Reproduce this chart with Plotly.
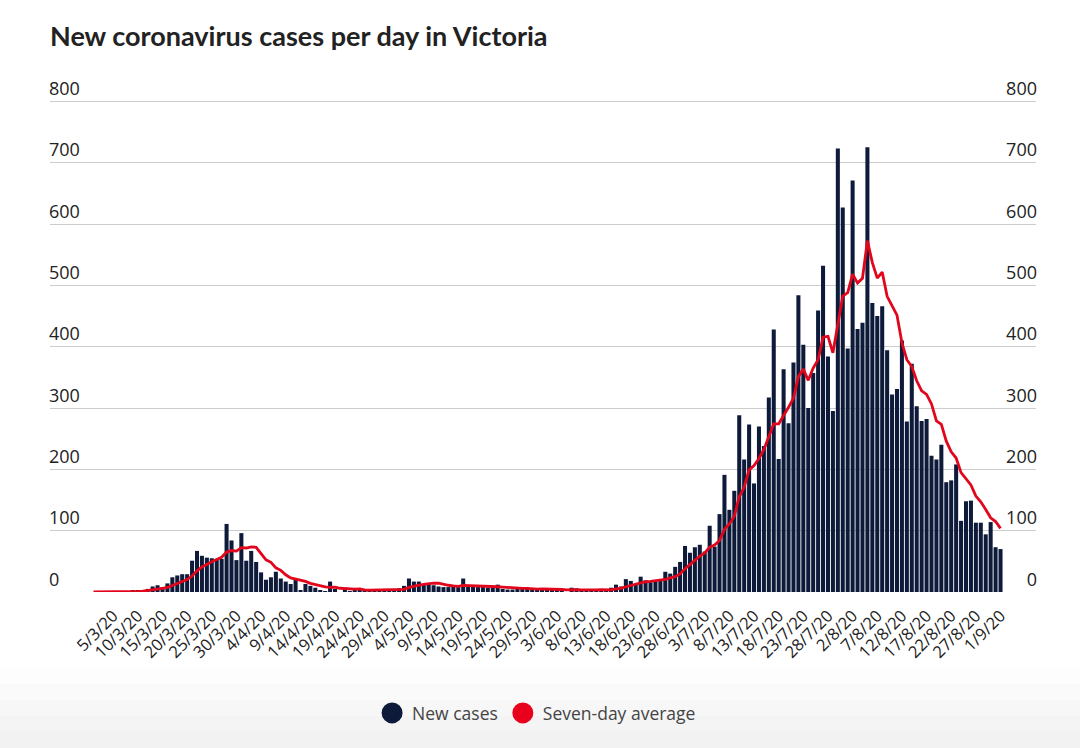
import pandas as pd
import plotly.graph_objects as go

# ---- data ----
start_date = "2020-03-01"
new_cases = [
    0, 0, 1, 0, 0, 1, 1, 0, 2, 3, 3, 5, 9, 11, 8, 14, 24, 27, 29, 29,
    51, 67, 59, 56, 55, 54, 54, 111, 84, 52, 96, 51, 67, 49, 32, 20, 24, 33, 22, 17,
    13, 21, 3, 13, 10, 7, 3, 1, 17, 5, 0, 5, 1, 3, 5, 4, 3, 1, 2, 5,
    3, 4, 6, 10, 22, 17, 17, 12, 12, 11, 9, 8, 8, 9, 8, 22, 9, 9, 8, 8,
    7, 7, 12, 5, 4, 4, 5, 5, 6, 5, 4, 5, 4, 5, 4, 2, 0, 7, 6, 1,
    3, 3, 4, 3, 4, 7, 12, 9, 21, 18, 13, 25, 19, 16, 17, 20, 33, 30, 41, 49,
    75, 64, 73, 77, 66, 108, 74, 127, 191, 134, 165, 288, 216, 273, 177, 270, 238, 317, 428, 217,
    363, 275, 374, 484, 403, 300, 357, 459, 532, 384, 295, 723, 627, 397, 671, 429, 439, 725, 471, 450,
    466, 394, 322, 331, 410, 278, 372, 303, 279, 282, 222, 216, 240, 179, 182, 208, 116, 148, 149, 113,
    113, 94, 114, 73, 70,
]
seven_day_avg = [
    0.0, 0.0, 0.1, 0.1, 0.1, 0.3, 0.4, 0.4, 0.7, 1.0, 1.4, 2.1, 3.3, 4.7, 5.9, 7.6, 10.6, 14.0, 17.4, 20.3,
    26.0, 34.4, 40.9, 45.4, 49.4, 53.0, 56.6, 65.1, 67.6, 66.6, 72.3, 71.7, 73.6, 72.9, 61.6, 52.4, 48.4, 39.4, 35.3, 28.1,
    23.0, 21.4, 19.0, 17.4, 14.1, 12.0, 10.0, 8.3, 7.7, 8.0, 6.1, 5.4, 4.6, 4.6, 5.1, 3.3, 3.0, 3.1, 2.7, 3.3,
    3.3, 3.1, 3.4, 4.4, 7.4, 9.6, 11.3, 12.6, 13.7, 14.4, 14.3, 12.3, 11.0, 9.9, 9.3, 10.7, 10.4, 10.4, 10.4, 10.4,
    10.1, 10.0, 8.6, 8.0, 7.3, 6.7, 6.3, 6.0, 5.9, 4.9, 4.7, 4.9, 4.9, 4.9, 4.7, 4.1, 3.4, 3.9, 4.0, 3.6,
    3.3, 3.1, 3.4, 3.9, 3.4, 3.6, 5.1, 6.0, 8.6, 10.6, 12.0, 15.0, 16.7, 17.3, 18.4, 18.3, 20.4, 22.9, 25.1, 29.4,
    37.9, 44.6, 52.1, 58.4, 63.6, 73.1, 76.7, 84.1, 102.3, 111.0, 123.6, 155.3, 170.7, 199.1, 206.3, 217.6, 232.4, 254.1, 274.1, 274.3,
    287.1, 301.1, 316.0, 351.1, 363.4, 345.1, 365.1, 378.9, 415.6, 417.0, 390.0, 435.7, 482.4, 488.1, 518.4, 503.7, 511.6, 573.0, 537.0, 511.7,
    521.6, 482.0, 466.7, 451.3, 406.3, 378.7, 367.6, 344.3, 327.9, 322.1, 306.6, 278.9, 273.4, 245.9, 228.6, 218.4, 194.7, 184.1, 174.6, 156.4,
    147.0, 134.4, 121.0, 114.9, 103.7,
]
y_ticks = [0, 100, 200, 300, 400, 500, 600, 700, 800]
x_tick_first = "2020-03-05"
x_tick_last = "2020-09-01"
title_text = "New coronavirus cases per day in Victoria"
series_names = ["New cases", "Seven-day average"]

dates = pd.date_range(start_date, periods=len(new_cases), freq="D")
x_ticks = pd.date_range(x_tick_first, x_tick_last, freq="5D")

NAVY = "#0e1a3a"
RED = "#e2061c"
FONT = "Open Sans"

# pixel geometry of the plot area
PLOT_L, PLOT_R, Y0_PX, Y800_PX = 50, 1036, 592, 101
PX_PER_CASE = (Y0_PX - Y800_PX) / 800.0
Y_TOP = 900
top_margin = Y800_PX - (Y_TOP - 800) * PX_PER_CASE
plot_h = Y0_PX - top_margin

fig = go.Figure()
fig.add_trace(go.Bar(x=dates, y=new_cases, marker=dict(color=NAVY, line=dict(width=0)),
                     name=series_names[0], showlegend=False))
fig.add_trace(go.Scatter(x=dates, y=seven_day_avg, mode="lines",
                         line=dict(color=RED, width=2.8), name=series_names[1], showlegend=False))
# legend entries as circles
fig.add_trace(go.Scatter(x=[None], y=[None], mode="markers", name=series_names[0],
                         marker=dict(size=16, color=NAVY, line=dict(width=5, color=NAVY))))
fig.add_trace(go.Scatter(x=[None], y=[None], mode="markers", name=series_names[1],
                         marker=dict(size=16, color="#e8001c", line=dict(width=5, color="#e8001c")),
                         yaxis="y2"))

# light grey band at the bottom (legend area)
band_cols = ["#fdfdfd", "#fafafa", "#f7f7f7", "#f4f4f4", "#f2f2f2"]
band_top = 668
for k, c in enumerate(band_cols):
    y0 = band_top + k * 16
    fig.add_shape(type="rect", xref="paper", yref="paper", layer="below",
                  x0=-0.06, x1=1.06,
                  y0=(Y0_PX - y0) / plot_h, y1=(Y0_PX - 760) / plot_h,
                  fillcolor=c, line=dict(width=0))

fig.update_layout(
    width=1080, height=748,
    margin=dict(l=PLOT_L, r=1080 - PLOT_R, t=top_margin, b=748 - Y0_PX, autoexpand=False),
    paper_bgcolor="white", plot_bgcolor="white",
    bargap=0.18,
    font=dict(family=FONT, color="#222222", size=16),
    title=dict(text="<b>" + title_text + "</b>", x=50 / 1080, xanchor="left",
               y=1 - 37 / 748, yanchor="middle",
               font=dict(family="Lato", size=27, color="#222222")),
    xaxis=dict(type="date",
               range=["2020-02-21 04:19", "2020-09-08 04:48"],
               tickvals=x_ticks,
               tickformat="%-d/%-m/%y", tickangle=-45,
               showgrid=False, zeroline=False, showline=False, ticks="",
               ticklabelstandoff=10, automargin=False,
               tickfont=dict(size=16.5, color="#222222")),
    yaxis=dict(range=[0, Y_TOP], tickvals=y_ticks, ticklabelposition="inside top",
               showgrid=True, gridcolor="#cccccc", gridwidth=1,
               zeroline=False, showline=False, ticks="", ticklabelstandoff=-4,
               automargin=False,
               tickfont=dict(size=18, color="#222222")),
    yaxis2=dict(range=[0, Y_TOP], tickvals=y_ticks, overlaying="y", side="right",
                ticklabelposition="inside top", showgrid=False, zeroline=False,
                showline=False, ticks="", ticklabelstandoff=-4, automargin=False,
                tickfont=dict(size=18, color="#222222")),
    legend=dict(orientation="h", x=0.4935, xanchor="center", y=35 / 748, yref="container",
                yanchor="middle", font=dict(size=17.5, color="#444444"),
                bgcolor="rgba(0,0,0,0)"),
    hovermode=False,
)

fig.write_html("out.html", config={"displayModeBar": False},
               post_script="document.body.style.margin='0';")
